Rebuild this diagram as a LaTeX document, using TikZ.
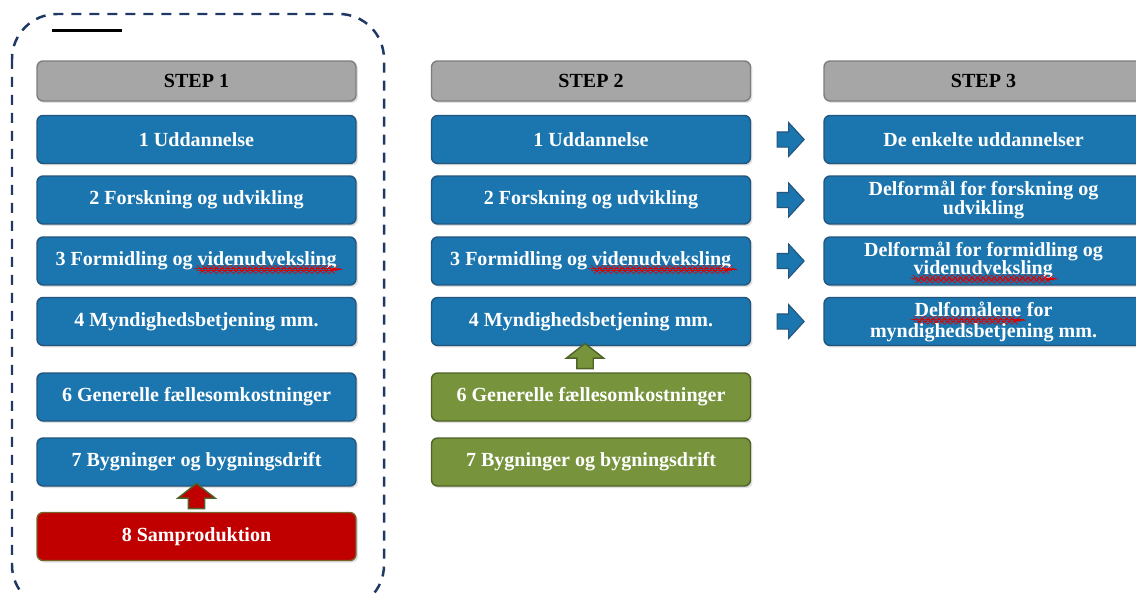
\documentclass[tikz,border=0pt]{standalone}
\usepackage{fontspec}
\setmainfont{Liberation Serif}
\usetikzlibrary{shapes.arrows,shadows,calc,decorations.pathmorphing}

\definecolor{boxblue}{RGB}{27,117,174}
\definecolor{boxblueline}{RGB}{35,85,125}
\definecolor{headgray}{RGB}{166,166,166}
\definecolor{headline}{RGB}{125,125,125}
\definecolor{boxgreen}{RGB}{119,147,60}
\definecolor{boxgreenline}{RGB}{79,98,40}
\definecolor{boxred}{RGB}{192,0,0}
\definecolor{boxredline}{RGB}{120,100,40}
\definecolor{dashnavy}{RGB}{31,56,100}

% red wavy line of the spell checker
\newdimen\typowd
\newcommand{\typo}[1]{\setbox0\hbox{#1}\typowd=\wd0\rlap{\box0}%
  \tikz[baseline=0pt]\draw[red!85!black,line width=0.3pt,decorate,
    decoration={snake,amplitude=0.5pt,segment length=3.2pt}]
    (0pt,-2.4pt) -- (\typowd,-2.4pt);}

\tikzset{
  box/.style={draw=boxblueline,fill=boxblue,line width=0.8pt,rounded corners=0.12cm,
    minimum width=6.38cm,minimum height=0.96cm,inner sep=0pt,text=white,align=center,
    font=\fontsize{11.4}{10.5}\selectfont\bfseries,
    drop shadow={opacity=0.25,shadow xshift=0.04cm,shadow yshift=-0.04cm}},
  stephead/.style={box,fill=headgray,draw=headline,text=black,minimum height=0.8cm},
  greenbox/.style={box,fill=boxgreen,draw=boxgreenline},
  redbox/.style={box,fill=boxred,draw=boxredline},
  rarrow/.style={single arrow,draw=boxblueline,fill=boxblue,line width=0.6pt,
    minimum height=0.54cm,inner xsep=0pt,inner ysep=0.14cm,
    single arrow head extend=0.19cm,single arrow tip angle=95},
  uarrow/.style={single arrow,rotate=90,draw=boxgreenline,fill=#1,line width=0.8pt,
    minimum height=0.5cm,inner xsep=0pt,inner ysep=0.15cm,
    single arrow head extend=0.21cm,single arrow tip angle=104},
  dashbox/.style={draw=dashnavy,line width=0.05cm,dash pattern=on 0.2cm off 0.16cm,
    rounded corners=0.9cm}
}

\begin{document}
\begin{tikzpicture}[x=0.02cm,y=-0.02cm]
    \useasboundingbox (0,0) rectangle (1136,595);
    \clip (0,0) rectangle (1136,595);

    \draw[dashbox] (12,14) rectangle (384,610);
    \draw[line width=0.07cm] (52,30.5) -- (122,30.5);

    % step headers
    \node[stephead] (h1) at (196.5,81) {STEP 1};
    \node[stephead] (h2) at (591,81) {STEP 2};
    \node[stephead] (h3) at (983.5,81) {STEP 3};

    % step 1
    \foreach \n/\y/\t in {1/139.5/1 Uddannelse,2/200/2 Forskning og udvikling,
      3/261/3 Formidling og \typo{videnudveksling},4/321.5/4 Myndighedsbetjening mm.,
      6/397/6 Generelle fællesomkostninger,7/462/7 Bygninger og bygningsdrift}{
      \node[box] (a\n) at (196.5,\y) {\t};
    }
    \node[redbox] (a8) at (196.5,536.5) {8 Samproduktion};

    % step 2
    \foreach \n/\y/\t in {1/139.5/1 Uddannelse,2/200/2 Forskning og udvikling,
      3/261/3 Formidling og \typo{videnudveksling},4/321.5/4 Myndighedsbetjening mm.}{
      \node[box] (b\n) at (591,\y) {\t};
    }
    \node[greenbox] (b6) at (591,397) {6 Generelle fællesomkostninger};
    \node[greenbox] (b7) at (591,462) {7 Bygninger og bygningsdrift};

    % step 3
    \foreach \n/\y/\t in {1/139.5/De enkelte uddannelser,
      2/200/Delformål for forskning og\\udvikling,
      3/261/Delformål for formidling og\\\typo{videnudveksling},
      4/321.5/\typo{Delfomålene} for\\myndighedsbetjening mm.}{
      \node[box] (c\n) at (983.5,\y) {\t};
    }

    % block arrows
    \foreach \n in {1,...,4}{
      \node[rarrow] (r\n) at ($(b\n.east)!0.5!(c\n.west)$) {};
    }
    \node[uarrow=boxgreen] (ug) at ($(b4.south)!0.5!(b6.north)+(-6,0)$) {};
    \node[uarrow=boxred] (ur) at ($(a7.south)!0.5!(a8.north)$) {};
\end{tikzpicture}
\end{document}
